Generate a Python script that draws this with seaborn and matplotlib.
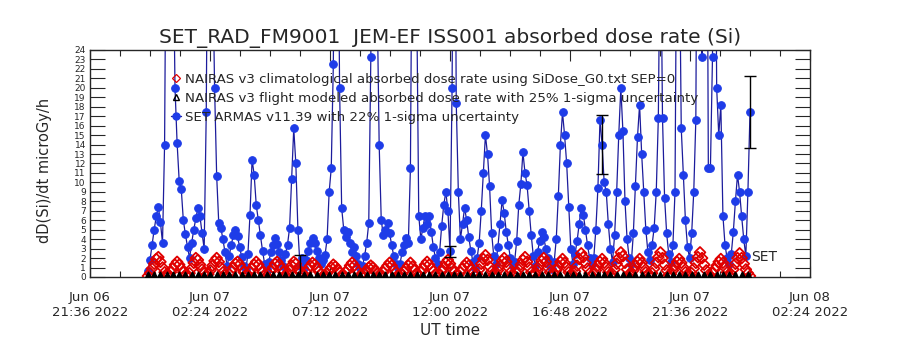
import numpy as np
import pandas as pd
import matplotlib
matplotlib.use("Agg")
import matplotlib.pyplot as plt
import matplotlib.dates as mdates
from matplotlib.lines import Line2D
import seaborn as sns

# SET ARMAS v11.39 absorbed dose rate (microGy/h), one value every 5 min from Jun 06 23:55 UT
set_armas = [
    0.6, 1.8, 3.4, 5.0, 6.4, 7.4, 5.8, 3.6, 14.0, 48.0,
    60.0, 55.0, 38.0, 20.0, 14.2, 10.2, 9.3, 6.0, 4.5,
    3.2, 2.0, 3.6, 5.0, 6.2, 7.3, 6.4, 4.6, 3.0, 17.4,
    50.0, 62.0, 35.0, 20.0, 10.7, 5.7, 5.2, 4.0, 2.6,
    1.2, 2.2, 3.4, 4.4, 5.0, 4.3, 3.2, 2.1, 1.2, 0.8,
    2.4, 6.6, 12.4, 10.8, 7.6, 6.0, 4.4, 2.8, 1.4,
    0.8, 1.6, 2.6, 3.4, 4.1, 3.5, 2.6, 1.8, 1.2, 2.4,
    3.4, 5.2, 10.4, 15.7, 12.0, 5.0, 1.2, 2.0,
    1.0, 1.8, 2.8, 3.6, 4.1, 3.6, 2.8, 2.0, 1.4, 1.8,
    2.3, 4.0, 9.0, 11.5, 22.5, 55.0, 48.0, 20.0, 7.3,
    5.0, 4.2, 4.8, 3.6, 2.6, 3.2, 2.2, 1.4, 1.0,
    1.2, 2.2, 3.6, 5.7, 23.3, 58.0, 62.0, 30.0, 14.0,
    6.0, 4.4, 5.0, 5.7, 4.6, 3.4, 2.2, 1.4, 0.9,
    1.4, 2.6, 3.4, 4.1, 3.6, 11.5, 45.0, 52.0, 30.0,
    6.5, 4.0, 5.2, 6.5, 5.6, 6.5, 4.8, 3.2, 2.0, 1.4,
    2.6, 5.4, 7.6, 9.0, 7.0, 2.7, 20.0, 60.0, 18.4,
    9.0, 4.0, 5.6, 7.3, 6.0, 4.2, 2.8, 1.6, 1.0,
    2.0, 3.6, 7.0, 11.0, 15.0, 13.0, 9.6, 4.6, 2.2,
    1.4, 3.2, 5.6, 8.1, 6.8, 4.8, 3.4, 2.0, 1.2,
    1.6, 3.8, 7.6, 9.8, 13.2, 11.0, 9.7, 7.0, 4.4, 2.2,
    1.2, 2.6, 3.8, 4.8, 4.2, 3.0, 2.0, 1.2, 0.8,
    1.6, 4.0, 8.6, 14.0, 17.4, 15.0, 12.0, 7.4, 3.0,
    1.4, 2.4, 3.8, 5.6, 7.3, 6.6, 5.0, 3.4, 2.0, 1.4,
    2.0, 5.0, 9.4, 16.6, 14.0, 10.0, 9.0, 5.6, 3.0,
    1.6, 4.4, 9.0, 15.0, 20.0, 15.4, 8.0, 4.0, 2.0,
    1.4, 4.6, 9.6, 14.8, 18.2, 13.0, 9.0, 5.0, 2.6,
    1.8, 3.4, 5.2, 9.0, 16.8, 40.0, 16.8, 8.4, 4.6, 2.4,
    1.6, 3.4, 9.0, 45.0, 38.0, 15.7, 10.8, 6.0, 3.2,
    2.0, 4.6, 9.0, 16.6, 60.0, 70.0, 23.3, 50.0, 65.0, 11.5,
    11.5, 23.3, 60.0, 20.0, 15.0, 18.2, 6.5, 3.4, 2.0, 1.4,
    2.4, 4.8, 8.0, 10.8, 9.0, 6.4, 4.0, 2.2, 9.0, 17.4,
]

# NAIRAS v3 climatological dose rate, same 5 min grid
nairas_clim = [
    0.1, 0.4, 0.9, 1.4, 1.9, 2.1, 1.6, 1.0, 0.5, 0.2,
    0.2, 0.5, 0.9, 1.3, 1.6, 1.3, 0.9, 0.5, 0.2,
    0.1, 0.4, 0.9, 1.5, 2.0, 1.8, 1.3, 0.8, 0.4, 0.2,
    0.3, 0.7, 1.2, 1.7, 2.0, 1.6, 1.0, 0.5, 0.2,
    0.1, 0.3, 0.6, 1.0, 1.4, 1.6, 1.3, 0.9, 0.5, 0.2,
    0.2, 0.5, 0.9, 1.3, 1.6, 1.3, 0.9, 0.5, 0.2,
    0.1, 0.3, 0.6, 1.0, 1.4, 1.6, 1.3, 0.9, 0.5, 0.2,
    0.3, 0.7, 1.2, 1.6, 1.4, 0.9, 0.5, 0.2,
    0.2, 0.5, 0.9, 1.2, 1.5, 1.3, 1.0, 0.6, 0.3, 0.1,
    0.2, 0.4, 0.7, 1.0, 1.3, 1.1, 0.8, 0.5, 0.2,
    0.2, 0.5, 0.8, 1.2, 1.5, 1.2, 0.8, 0.5, 0.2,
    0.2, 0.4, 0.7, 1.0, 1.2, 1.0, 0.7, 0.4, 0.2,
    0.2, 0.5, 0.9, 1.2, 1.5, 1.2, 0.8, 0.5, 0.2,
    0.1, 0.3, 0.6, 0.9, 1.2, 1.5, 1.1, 0.7, 0.3,
    0.2, 0.5, 0.9, 1.3, 1.6, 1.3, 0.9, 0.6, 0.3, 0.1,
    0.2, 0.6, 1.0, 1.5, 1.8, 1.4, 0.9, 0.5, 0.2,
    0.2, 0.5, 0.9, 1.2, 1.5, 1.2, 0.8, 0.4, 0.2,
    0.3, 0.8, 1.4, 1.9, 2.3, 1.8, 1.1, 0.6, 0.2,
    0.3, 0.7, 1.2, 1.7, 2.0, 1.6, 1.0, 0.5, 0.2,
    0.1, 0.4, 0.8, 1.3, 1.8, 2.1, 1.6, 1.0, 0.5, 0.2,
    0.3, 0.7, 1.2, 1.7, 2.0, 1.6, 1.0, 0.5, 0.2,
    0.3, 0.7, 1.1, 1.6, 1.9, 1.5, 1.0, 0.5, 0.2,
    0.2, 0.6, 1.2, 1.9, 2.5, 2.1, 1.5, 0.9, 0.4, 0.1,
    0.3, 0.7, 1.2, 1.6, 1.9, 1.5, 1.0, 0.5, 0.2,
    0.3, 0.8, 1.4, 2.0, 2.6, 2.2, 1.5, 0.8, 0.3,
    0.3, 0.7, 1.2, 1.6, 1.9, 1.5, 1.0, 0.5, 0.2,
    0.1, 0.4, 0.9, 1.5, 2.1, 2.6, 2.0, 1.3, 0.7, 0.2,
    0.3, 0.7, 1.2, 1.6, 1.9, 1.5, 1.0, 0.5, 0.2,
    0.1, 0.4, 0.9, 1.5, 2.1, 2.6, 2.0, 1.3, 0.7, 0.2,
    0.1, 0.4, 0.8, 1.2, 1.6, 1.9, 1.5, 1.0, 0.5, 0.2,
    0.3, 0.8, 1.4, 2.0, 2.5, 2.0, 1.4, 0.8, 0.4, 0.1,
]

# NAIRAS v3 flight modeled dose rate, one value every 15 min
nairas_flight = [
    0.08, 0.12, 0.10, 0.14, 0.09, 0.11, 0.13, 0.08, 0.12, 0.10,
    0.14, 0.09, 0.11, 0.13, 0.08, 0.12, 0.10, 0.14, 0.09, 0.11,
    0.13, 0.08, 0.12, 0.10, 0.14, 0.09, 0.11, 0.13, 0.08, 0.12,
    0.10, 0.14, 0.09, 0.11, 0.13, 0.08, 0.12, 0.10, 0.14, 0.09,
    0.11, 0.13, 0.08, 0.12, 0.10, 0.14, 0.09, 0.11, 0.13, 0.08,
    0.12, 0.10, 0.14, 0.09, 0.11, 0.13, 0.08, 0.12, 0.10, 0.14,
    0.09, 0.11, 0.13, 0.08, 0.12, 0.10, 0.14, 0.09, 0.11, 0.13,
    0.08, 0.12, 0.10, 0.14, 0.09, 0.11, 0.13, 0.08, 0.12, 0.10,
    0.14, 0.09, 0.11, 0.13, 0.08, 0.12, 0.10, 0.14, 0.09, 0.11,
    0.13, 0.08, 0.12, 0.10, 0.14, 0.09, 0.11,
]

# SET points shown with their 1-sigma bars
err_idx = [73, 145, 218, 289]
err_size = [1.1, 0.55, 3.1, 3.8]

start = pd.Timestamp("2022-06-06 23:55")
t_set = pd.date_range(start, periods=len(set_armas), freq="5min")
t_clim = pd.date_range(start, periods=len(nairas_clim), freq="5min")
t_flight = pd.date_range(start, periods=len(nairas_flight), freq="15min")

red = "#e00000"
dot_blue = "#1e3ce8"
line_blue = "#1c1c9c"

sns.set_style("ticks")
plt.rcParams["font.family"] = ["DejaVu Sans"]

fig = plt.figure(figsize=(9, 3.5), dpi=100)
ax = fig.add_axes([0.1, 0.2086, 0.8, 0.6486])

sns.lineplot(x=t_set, y=set_armas, ax=ax, color=line_blue, linewidth=0.9,
             marker="o", markersize=5.5, markerfacecolor=dot_blue,
             markeredgecolor=dot_blue, estimator=None, sort=False, zorder=2)
sns.scatterplot(x=t_clim, y=nairas_clim, ax=ax, marker="D", s=30,
                facecolor="none", edgecolor=red, linewidth=1.3, zorder=3)
sns.scatterplot(x=t_flight, y=nairas_flight, ax=ax, marker="^", s=36,
                facecolor="black", edgecolor="black", linewidth=1.2, zorder=4)

ex = [t_set[i] for i in err_idx]
ey = [set_armas[i] for i in err_idx]
ax.errorbar(ex, ey, yerr=err_size, fmt="none", ecolor="black",
            elinewidth=1.0, capsize=4, capthick=1.0, zorder=5)

ax.text(t_set[-1] + pd.Timedelta("3min"), 2.1, "SET", fontsize=10,
        va="center", ha="left")

ax.set_xlim(pd.Timestamp("2022-06-06 21:36"), pd.Timestamp("2022-06-08 02:24"))
ax.set_ylim(0, 24)

major = pd.date_range("2022-06-06 21:36", periods=7, freq="288min")
minor = pd.date_range("2022-06-06 21:36", periods=25, freq="72min")
ax.xaxis.set_major_locator(plt.FixedLocator(mdates.date2num(major)))
ax.xaxis.set_minor_locator(plt.FixedLocator(mdates.date2num(minor)))
ax.xaxis.set_major_formatter(mdates.DateFormatter("%b %d\n%H:%M %Y"))
ax.set_yticks(range(0, 25))

ax.tick_params(axis="y", which="major", direction="in", length=11, width=0.8,
               left=True, right=True, labelsize=6.5, pad=3)
ax.tick_params(axis="x", which="major", direction="in", length=8, width=0.8,
               top=True, bottom=True, labelsize=9.5, pad=10)
ax.tick_params(axis="x", which="minor", direction="in", length=4, width=0.8,
               top=True, bottom=True)
for lab in ax.get_xticklabels():
    lab.set_ha("center")
for s in ax.spines.values():
    s.set_linewidth(1.0)
ax.set_xlabel("")
ax.set_ylabel("")

handles = [
    Line2D([], [], linestyle="", marker="D", markersize=4, markerfacecolor="none",
           markeredgecolor=red, markeredgewidth=0.9),
    Line2D([], [], linestyle="", marker="^", markersize=5, markerfacecolor="none",
           markeredgecolor="black", markeredgewidth=1.0),
    Line2D([], [], color=line_blue, linewidth=1.0, marker="o", markersize=5,
           markerfacecolor=dot_blue, markeredgecolor=dot_blue),
]
labels = [
    "NAIRAS v3 climatological absorbed dose rate using SiDose_G0.txt SEP=0",
    "NAIRAS v3 flight modeled absorbed dose rate with 25% 1-sigma uncertainty",
    "SET ARMAS v11.39 with 22% 1-sigma uncertainty",
]
ax.legend(handles, labels, loc="upper left", bbox_to_anchor=(0.112, 0.90),
          frameon=False, fontsize=9.6, handlelength=0.8, handletextpad=0.3,
          borderpad=0, borderaxespad=0, labelspacing=0.45)

fig.text(0.5, 0.891, "SET_RAD_FM9001  JEM-EF ISS001 absorbed dose rate (Si)",
         ha="center", va="center", fontsize=14.5)
fig.text(0.05, 0.514, "dD(Si)/dt microGy/h", rotation=90, ha="center",
         va="center", fontsize=10.5)
fig.text(0.5, 0.057, "UT time", ha="center", va="center", fontsize=11)

fig.savefig("out.png", dpi=100)
